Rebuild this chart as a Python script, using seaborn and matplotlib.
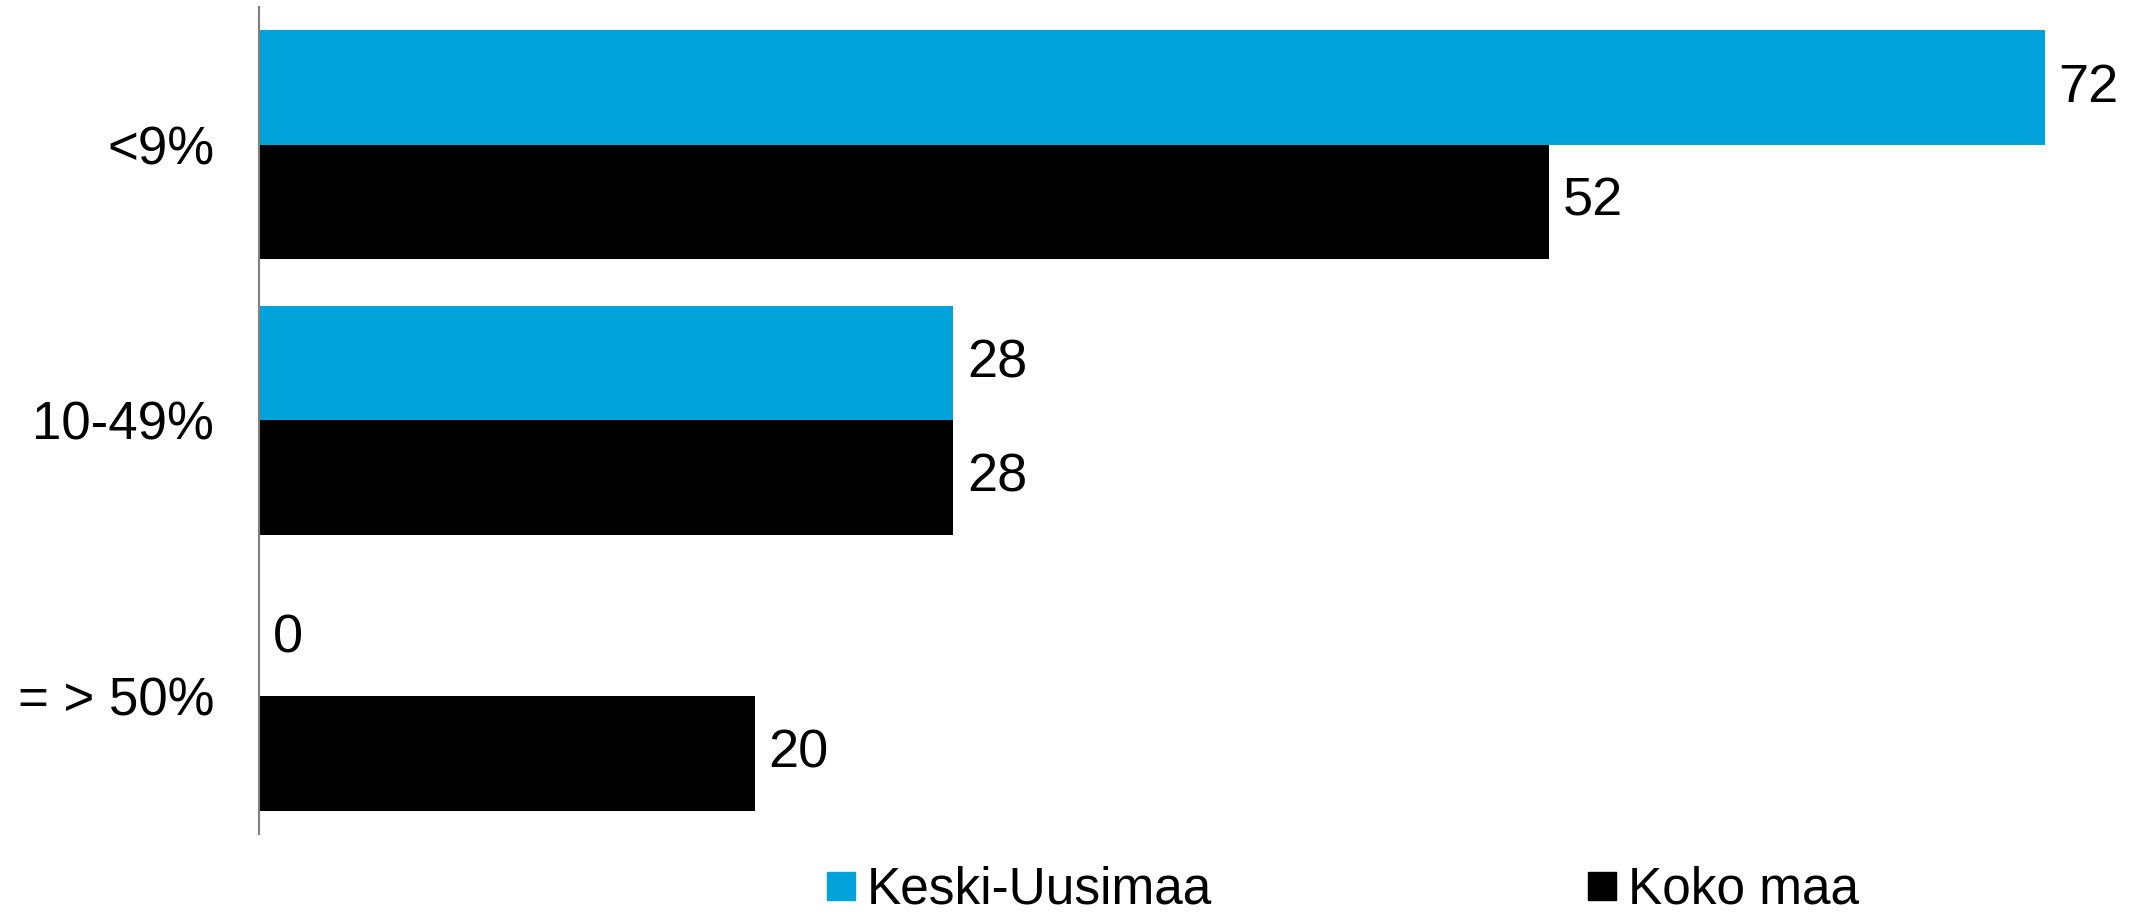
import matplotlib
matplotlib.use("Agg")
import matplotlib.pyplot as plt
import seaborn as sns
import pandas as pd

# ============================
# Data
# ============================
categories = ["<9%", "10-49%", "= > 50%"]
series = ["Keski-Uusimaa", "Koko maa"]
keski_uusimaa = [72, 28, 0]
koko_maa = [52, 28, 20]
colors = ["#02A3DA", "#000000"]

df = pd.DataFrame({
    "luokka": categories * 2,
    "sarja": [series[0]] * 3 + [series[1]] * 3,
    "arvo": keski_uusimaa + koko_maa,
})

# ============================
# Style
# ============================
sns.set_style("white")
plt.rcParams["font.family"] = ["Liberation Sans", "DejaVu Sans"]
plt.rcParams["text.color"] = "black"
plt.rcParams["ytick.color"] = "black"

# ============================
# Plot
# ============================
fig = plt.figure(figsize=(21.34, 9.18), dpi=100)
ax = fig.add_axes([0.1212, 0.0915, 0.8788, 0.901])

sns.barplot(data=df, y="luokka", x="arvo", hue="sarja", order=categories,
            hue_order=series, palette=colors, orient="h", width=0.83,
            saturation=1, linewidth=0, ax=ax, legend=False)

for cont in ax.containers:
    ax.bar_label(cont, fmt="%d", padding=10, fontsize=39, color="black")

ax.set_xlim(0, 75.6)
ax.set_ylim(2.5, -0.5)
ax.set_xlabel("")
ax.set_ylabel("")
ax.set_xticks([])
ax.tick_params(axis="y", length=0, pad=32, labelsize=38)
for s in ["top", "right", "bottom"]:
    ax.spines[s].set_visible(False)
ax.spines["left"].set_color("#808080")
ax.spines["left"].set_linewidth(1.5)

handles = [plt.Line2D([], [], marker="s", linestyle="", markersize=20,
                      color=c) for c in colors]
fig.legend(handles, series, loc="center", bbox_to_anchor=(0.629, 0.03),
           ncol=2, frameon=False, handlelength=0.6, handletextpad=0.2,
           columnspacing=7.3, prop={"size": 37})

fig.savefig("out.png", dpi=100)
